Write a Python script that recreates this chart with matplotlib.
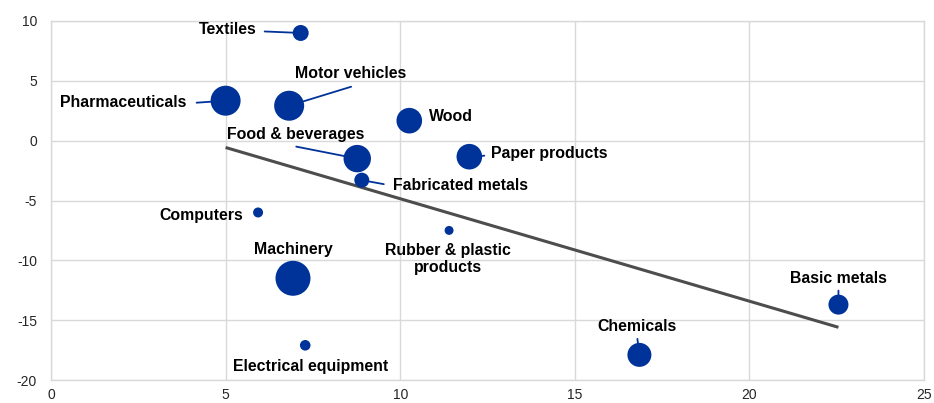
import numpy as np
import matplotlib
matplotlib.use("Agg")
import matplotlib.pyplot as plt

plt.rcParams["axes.unicode_minus"] = False

# ---- data ----
sectors = ["Textiles", "Pharmaceuticals", "Motor vehicles", "Wood", "Food & beverages",
           "Fabricated metals", "Paper products", "Computers", "Machinery",
           "Rubber & plastic\nproducts", "Electrical equipment", "Chemicals", "Basic metals"]
x_vals = [7.15, 5.0, 6.82, 10.26, 8.77, 8.9, 11.98, 5.93, 6.93, 11.4, 7.28, 16.85, 22.55]
y_vals = [9.0, 3.34, 2.92, 1.67, -1.5, -3.3, -1.34, -6.0, -11.5, -7.5, -17.1, -17.9, -13.7]
weights = [64, 225, 225, 164, 188, 56, 164, 25, 306, 20, 28, 144, 100]
x_ticks = [0, 5, 10, 15, 20, 25]
y_ticks = [-20, -15, -10, -5, 0, 5, 10]

# ---- label layout (pixel offsets from bubble centre) ----
# text offset, ha, leader start offset (or None)
layout = {
    "Textiles": ((-44, 3), "right", (-36, 1.5)),
    "Pharmaceuticals": ((-39, -2), "right", (-29, -2)),
    "Motor vehicles": ((61, 32), "center", (62, 19)),
    "Wood": ((20, 4), "left", None),
    "Food & beverages": ((-61.5, 24), "center", (-61, 12)),
    "Fabricated metals": ((31, -5), "left", (22, -4)),
    "Paper products": ((22, 3), "left", (15, 1)),
    "Computers": ((-15, -3), "right", None),
    "Machinery": ((0, 29), "center", None),
    "Rubber & plastic\nproducts": ((-1, -28.5), "center", None),
    "Electrical equipment": ((5, -21), "center", None),
    "Chemicals": ((-2, 28), "center", (-2, 16)),
    "Basic metals": ((0, 26), "center", (0, 14)),
}

BLUE = "#003399"
W, H, DPI = 934, 403, 100
fig = plt.figure(figsize=(W / DPI, H / DPI), dpi=DPI)
ax = fig.add_axes([51 / W, (H - 380) / H, (924 - 51) / W, (380 - 21) / H])

ax.set_xlim(0, 25)
ax.set_ylim(-20, 10)
ax.set_xticks(x_ticks)
ax.set_yticks(y_ticks)
ax.grid(True, color="#d9d9d9", linewidth=1.0)
ax.set_axisbelow(True)
for s in ax.spines.values():
    s.set_color("#d9d9d9")
    s.set_linewidth(1.0)
ax.tick_params(length=0, labelsize=10, labelcolor="#262626")
ax.tick_params(axis="x", pad=6)
ax.tick_params(axis="y", pad=10)
for lab in ax.get_xticklabels() + ax.get_yticklabels():
    lab.set_family(["Liberation Sans", "DejaVu Sans"])

# bubble sizes: weight ~ radius_px^2 -> s in pt^2
px2pt = 72 / DPI
sizes = [(2 * np.sqrt(w) * px2pt) ** 2 for w in weights]
ax.scatter(x_vals, y_vals, s=sizes, color=BLUE, edgecolors="none", zorder=3)

# trend line (OLS fit over data range)
coef = np.polyfit(x_vals, y_vals, 1)
xt = np.array([min(x_vals), max(x_vals)])
ax.plot(xt, np.polyval(coef, xt), color="#4d4d4d", linewidth=2.2, zorder=2,
        solid_capstyle="butt")

for name, x, y, w in zip(sectors, x_vals, y_vals, weights):
    (tx, ty), ha, lead = layout[name]
    ax.annotate(name, xy=(x, y), xytext=(tx, ty), textcoords="offset pixels",
                ha=ha, va="center", fontsize=11.4, fontweight="bold",
                family=["Liberation Sans", "DejaVu Sans"], color="#000000",
                linespacing=1.15, zorder=5)
    if lead is not None:
        r = np.sqrt(w)
        ax.annotate("", xy=(x, y), xytext=lead, textcoords="offset pixels",
                    arrowprops=dict(arrowstyle="-", color=BLUE, lw=1.3,
                                    shrinkA=0, shrinkB=r * px2pt),
                    zorder=4)

fig.savefig("out.png", dpi=DPI)
